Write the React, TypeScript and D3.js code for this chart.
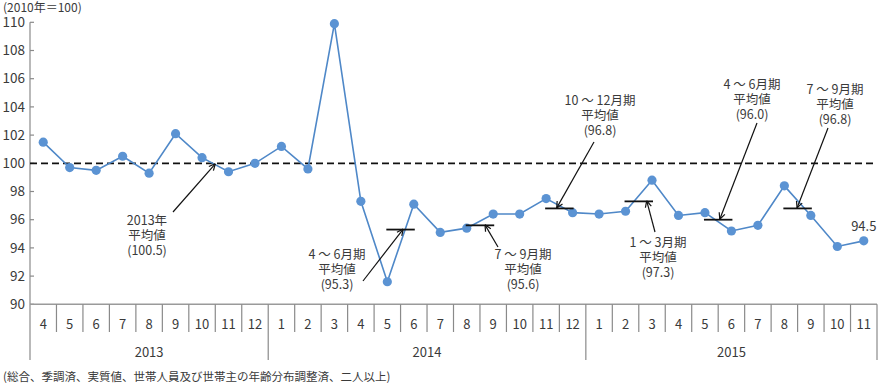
import { useEffect, useRef } from 'react';
import * as d3 from 'd3';

// months along the axis (2013/4 - 2015/11)
const monthLabels = [
  '4', '5', '6', '7', '8', '9', '10', '11', '12',
  '1', '2', '3', '4', '5', '6', '7', '8', '9', '10', '11', '12',
  '1', '2', '3', '4', '5', '6', '7', '8', '9', '10', '11',
];
const yearLabels = ['2013', '2014', '2015'];
const yearMonthCounts = [9, 12, 11];

const values = [
  101.5, 99.7, 99.5, 100.5, 99.3, 102.1, 100.4, 99.4, 100.0,
  101.2, 99.6, 109.9, 97.3, 91.6, 97.1, 95.1, 95.4, 96.4, 96.4, 97.5, 96.5,
  96.4, 96.6, 98.8, 96.3, 96.5, 95.2, 95.6, 98.4, 96.3, 94.1, 94.5,
];

const yTicks = [90, 92, 94, 96, 98, 100, 102, 104, 106, 108, 110];

// quarterly averages: label, value, index of the quarter's first month
const quarterNames = ['4 ～ 6月期', '7 ～ 9月期', '10 ～ 12月期', '1 ～ 3月期', '4 ～ 6月期', '7 ～ 9月期'];
const quarterValues = [95.3, 95.6, 96.8, 97.3, 96.0, 96.8];
const quarterStart = [12, 15, 18, 21, 24, 27];

const baseValue = 100;
const annualLabel = '2013年';
const annualValue = 100.5;

// annotation layout (label centre, arrow tail, where the head lands along the bar)
const quarterLayout = [
  { lx: 337, ly: 255, tail: [363, 281], frac: 0.6 },
  { lx: 523, ly: 255, tail: [498, 247], frac: 0.69 },
  { lx: 600, ly: 101, tail: [594, 142], frac: 0.4 },
  { lx: 658, ly: 243, tail: [655, 232], frac: 0.8 },
  { lx: 752, ly: 85, tail: [757, 123], frac: 0.56 },
  { lx: 835, ly: 90, tail: [828, 128], frac: 0.48 },
];

const FONT = '"Noto Sans CJK JP", "Noto Sans", sans-serif';
const TEXT = '#3a3a3a';

const Chart = () => {
  const svgRef = useRef<SVGSVGElement | null>(null);

  useEffect(() => {
    document.body.style.margin = '0';
    const width = 881;
    const height = 387;
    const svg = d3.select(svgRef.current);
    svg.selectAll('*').remove();
    svg.attr('width', width).attr('height', height);

    const left = 30, right = 877, top = 22.3, bottom = 304.3;
    const keys = monthLabels.map((_, i) => String(i));

    const x = d3.scaleBand<string>().domain(keys).range([left, right]).padding(0);
    const y = d3.scaleLinear().domain([90, 110]).range([bottom, top]);
    const cx = (i: number) => (x(String(i)) as number) + x.bandwidth() / 2;

    // unit label
    svg.append('text')
      .attr('x', 3).attr('y', 12)
      .style('font-family', FONT).style('font-size', '12px').style('fill', TEXT)
      .text('(2010年＝100)');

    // y axis
    svg.append('line')
      .attr('x1', left).attr('x2', left).attr('y1', top).attr('y2', 360)
      .attr('stroke', '#8a8a8a').attr('stroke-width', 1.2);

    yTicks.forEach(t => {
      svg.append('line')
        .attr('x1', left).attr('x2', left + 4).attr('y1', y(t)).attr('y2', y(t))
        .attr('stroke', '#8a8a8a').attr('stroke-width', 1.2);
      svg.append('text')
        .attr('x', 25).attr('y', y(t)).attr('dy', '0.35em')
        .attr('text-anchor', 'end')
        .style('font-family', FONT).style('font-size', '13.5px').style('fill', TEXT)
        .text(t);
    });

    // x axis with month and year rows
    svg.append('line')
      .attr('x1', left).attr('x2', right).attr('y1', bottom).attr('y2', bottom)
      .attr('stroke', '#9a9a9a').attr('stroke-width', 1.5);

    let cum = 0;
    const yearStarts: number[] = [];
    yearMonthCounts.forEach(c => { yearStarts.push(cum); cum += c; });

    keys.forEach((k, i) => {
      const x0 = x(k) as number;
      if (i > 0) {
        const isYear = yearStarts.includes(i);
        svg.append('line')
          .attr('x1', x0).attr('x2', x0).attr('y1', bottom).attr('y2', isYear ? 360 : 332)
          .attr('stroke', '#8a8a8a').attr('stroke-width', 1.2);
      }
      svg.append('text')
        .attr('x', cx(i)).attr('y', 324).attr('dy', '0.35em')
        .attr('text-anchor', 'middle')
        .style('font-family', FONT).style('font-size', '13px').style('fill', TEXT)
        .text(monthLabels[i]);
    });
    svg.append('line')
      .attr('x1', right).attr('x2', right).attr('y1', bottom).attr('y2', 360)
      .attr('stroke', '#8a8a8a').attr('stroke-width', 1.2);

    yearLabels.forEach((yl, j) => {
      const a = x(String(yearStarts[j])) as number;
      const b = j + 1 < yearStarts.length ? (x(String(yearStarts[j + 1])) as number) : right;
      svg.append('text')
        .attr('x', (a + b) / 2).attr('y', 352).attr('dy', '0.35em')
        .attr('text-anchor', 'middle')
        .style('font-family', FONT).style('font-size', '13px').style('fill', TEXT)
        .text(yl);
    });

    // footnote
    svg.append('text')
      .attr('x', 3).attr('y', 381)
      .style('font-family', FONT).style('font-size', '11.5px').style('fill', TEXT)
      .text('(総合、季調済、実質値、世帯人員及び世帯主の年齢分布調整済、二人以上)');

    // 2010 = 100 reference
    svg.append('line')
      .attr('x1', left).attr('x2', 873).attr('y1', y(baseValue)).attr('y2', y(baseValue))
      .attr('stroke', '#111').attr('stroke-width', 1.8).attr('stroke-dasharray', '7,4');

    const arrow = (x1: number, y1: number, x2: number, y2: number) => {
      svg.append('line')
        .attr('x1', x1).attr('y1', y1).attr('x2', x2).attr('y2', y2)
        .attr('stroke', '#111').attr('stroke-width', 1.2);
      const ang = Math.atan2(y2 - y1, x2 - x1);
      const len = 7, spread = 0.45;
      [ang + Math.PI - spread, ang + Math.PI + spread].forEach(a => {
        svg.append('line')
          .attr('x1', x2).attr('y1', y2)
          .attr('x2', x2 + len * Math.cos(a)).attr('y2', y2 + len * Math.sin(a))
          .attr('stroke', '#111').attr('stroke-width', 1.2);
      });
    };

    // multi-line label as one text element
    const label = (lines: string[], lx: number, ly: number) => {
      const t = svg.append('text')
        .attr('text-anchor', 'middle')
        .style('font-family', FONT).style('font-size', '12.5px').style('fill', TEXT);
      lines.forEach((s, i) => {
        t.append('tspan')
          .attr('x', lx).attr('y', ly + i * 14.6).attr('dy', '0.35em')
          .text(s);
      });
    };

    // series line + points
    const line = d3.line<number>().x((_, i) => cx(i)).y(d => y(d));
    svg.append('path')
      .attr('d', line(values) as string)
      .attr('fill', 'none').attr('stroke', '#4f88c8').attr('stroke-width', 1.6);

    svg.selectAll('circle.pt')
      .data(values)
      .enter()
      .append('circle')
      .attr('class', 'pt')
      .attr('cx', (_, i) => cx(i))
      .attr('cy', d => y(d))
      .attr('r', 4.6)
      .attr('fill', '#5b93d3');

    // quarterly average bars with labels
    quarterValues.forEach((v, q) => {
      const a = cx(quarterStart[q] + 1);
      const b = cx(quarterStart[q] + 2);
      svg.append('line')
        .attr('x1', a - 1).attr('x2', b + 1).attr('y1', y(v)).attr('y2', y(v))
        .attr('stroke', '#111').attr('stroke-width', 1.8);
      const L = quarterLayout[q];
      arrow(L.tail[0], L.tail[1], a + (b - a) * L.frac, y(v) - 0.5);
      label([quarterNames[q], '平均値', `(${v.toFixed(1)})`], L.lx, L.ly);
    });

    // 2013 annual average
    arrow(173, 212, x('7') as number, y(baseValue) + 0.5);
    label([annualLabel, '平均値', `(${annualValue.toFixed(1)})`], 147, 221);

    // last value
    const last = values.length - 1;
    svg.append('text')
      .attr('x', cx(last)).attr('y', y(values[last]) - 14).attr('dy', '0.35em')
      .attr('text-anchor', 'middle')
      .style('font-family', FONT).style('font-size', '13px').style('fill', TEXT)
      .text(values[last].toFixed(1));
  }, []);

  return <svg ref={svgRef} style={{ display: 'block' }}></svg>;
};

export default function App() {
  return <Chart />;
}
